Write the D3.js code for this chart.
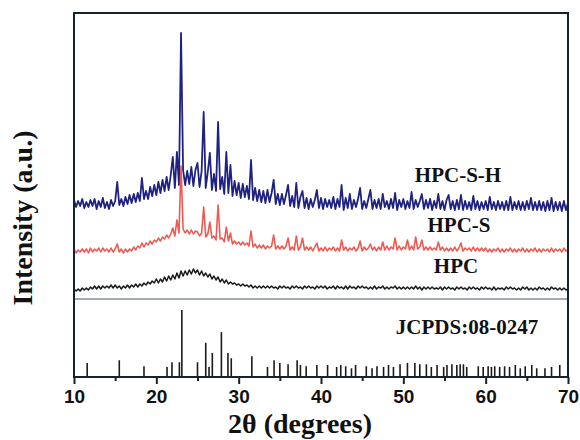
<!DOCTYPE html>
<html>
<head>
<meta charset="utf-8">
<script src="https://cdn.jsdelivr.net/npm/d3@7"></script>
<style>
  html, body { margin: 0; padding: 0; background: #fff; }
  svg { display: block; }
</style>
</head>
<body>
<svg id="chart" width="580" height="440"></svg>
<script>
// ---------- DATA ----------
const thetaStart = 10;      // first 2θ sample (degrees)
const thetaStep = 0.25;     // 2θ sampling step (degrees)

const seriesNames = ["HPC-S-H", "HPC-S", "HPC"];

// HPC-S-H (stacked, a.u.)
const hpcSH = [
  98,91,97,92, 99,90,96,91, 98,92,99,89, 97,91,100,90, 96,89,98,92,
  97,116,93,99, 92,101,94,103, 95,104,96,105, 97,120,99,107, 99,111,102,113,
  103,116,105,118, 107,121,108,123, 141,110,146,113, 265,128,113,127, 114,131,112,128,
  135,111,127,186, 110,126,145,108, 124,107,176,109, 121,104,146,105, 133,102,117,103,
  115,100,114,101, 112,99,138,98, 110,97,108,96, 107,95,108,96, 105,118,94,104,
  93,104,94,103, 113,92,102,91, 115,90,101,107, 90,100,89,99, 91,98,108,90,
  100,89,99,91, 98,90,101,89, 99,91,113,88, 100,90,104,89, 98,91,99,110,
  89,97,90,99, 108,89,98,90, 99,89,104,91, 97,89,99,90, 105,88,98,91,
  99,89,97,90, 106,89,98,91, 97,104,89,98, 90,99,88,97, 90,104,89,97,
  88,98,103,89, 97,88,98,89, 103,88,97,89, 96,88,102,89, 97,88,96,89,
  97,88,101,89, 96,88,97,89, 96,88,97,88, 101,88,96,89, 97,88,96,88,
  97,89,100,88, 96,88,97,88, 96,87,97,88, 100,87,96,88, 96,87,97,88,
  95
];

// HPC-S (stacked, a.u.)
const hpcS = [
  49,45,48,46, 49,46,49,45, 50,46,49,47, 50,46,50,47, 49,46,50,46,
  49,54,46,49, 45,49,46,49, 47,51,48,52, 50,55,51,55, 53,57,54,58,
  56,60,57,61, 59,63,60,64, 70,62,78,65, 132,69,65,68, 64,68,64,67,
  66,62,65,91, 61,64,76,60, 62,58,93,59, 60,56,71,57, 65,54,57,54,
  56,53,56,53, 55,52,67,51, 54,50,53,50, 53,49,52,50, 52,63,49,52,
  49,52,49,52, 60,48,51,48, 62,48,51,60, 48,51,48,51, 47,51,55,47,
  50,47,51,47, 50,48,51,47, 50,47,58,48, 51,47,50,48, 51,47,50,57,
  47,51,48,50, 54,48,51,47, 51,48,56,48, 52,48,51,49, 60,48,52,48,
  51,49,58,48, 52,48,61,49, 51,58,48,51, 48,51,48,50, 48,56,48,51,
  47,50,47,50, 47,51,47,50, 55,47,50,48, 50,47,51,47, 50,47,50,47,
  50,46,49,46, 49,47,50,46, 49,46,49,47, 50,46,49,46, 49,47,50,46,
  49,46,49,47, 50,46,49,46, 49,47,49,46, 50,46,49,47, 49,46,50,47,
  48
];

// HPC (stacked, a.u.)
const hpc = [
  9,7,9,7, 10,8,10,8, 11,9,12,9, 12,9,12,10, 12,10,13,10,
  13,10,12,9, 12,10,13,10, 13,11,14,11, 14,12,15,13, 16,14,17,15,
  19,15,19,16, 21,17,22,18, 23,19,25,20, 27,22,27,23, 28,24,29,25,
  28,23,27,22, 25,21,24,19, 22,18,21,16, 19,15,18,14, 16,14,15,13,
  14,12,14,12, 13,11,13,10, 12,10,12,10, 12,10,12,10, 12,10,11,9,
  12,10,12,10, 11,9,12,10, 12,10,11,9, 12,10,12,10, 11,9,12,10,
  12,10,12,9, 11,10,12,9, 12,10,11,9, 12,9,12,10, 11,9,12,10,
  12,10,11,9, 11,9,12,9, 11,10,12,9, 11,9,11,10, 12,9,11,9,
  11,9,11,9, 11,9,12,9, 11,8,11,9, 11,9,11,9, 10,9,11,8,
  11,9,11,9, 10,8,11,9, 11,9,10,8, 11,9,11,9, 10,8,11,9,
  11,9,10,8, 11,8,10,9, 10,8,11,9, 11,9,10,8, 10,8,11,9,
  11,8,10,8, 10,8,11,9, 10,8,10,8, 11,9,10,8, 10,8,10,8,
  9
];

// JCPDS 08-0247 reference lines: position (2θ) and relative intensity (%)
const refPos = [11.6,15.5,18.5,21.3,21.9,22.8,23.1,25.0,26.0,26.4,26.8,27.9,28.7,29.1,31.6,33.5,34.3,35.0,36.0,37.1,37.5,38.2,39.5,
  40.8,41.9,42.4,43.0,43.7,44.2,45.5,46.2,46.8,47.6,48.2,48.8,49.6,50.5,51.4,52.0,52.8,53.4,54.1,54.9,55.3,55.9,56.5,56.9,57.3,57.7,
  59.1,59.7,60.3,60.7,61.1,61.7,62.3,62.9,63.6,64.2,64.8,65.6,66.2,67.2,68.0,69.0];
const refInt = [21,25,16,15,22,22,100,22,51,15,36,67,36,28,31,15,25,21,19,25,18,16,18,
  18,15,18,16,13,18,16,13,16,15,18,15,19,21,21,19,19,15,18,15,18,19,18,19,19,15,
  16,15,16,15,16,15,16,15,18,13,16,18,13,13,15,18];

const xTicks = [10,20,30,40,50,60,70];
const xMinorTicks = [15,25,35,45,55,65];
const refLabel = "JCPDS:08-0247";
const xTitle = "2θ (degrees)";
const yTitle = "Intensity (a.u.)";

// ---------- DRAW ----------
const svg = d3.select("#chart");
const L = 74, R = 568, T = 13, B = 377, SPLIT = 299;

const x = d3.scaleLinear().domain([10, 70]).range([L, R]);
const yTop = d3.scaleLinear().domain([0, 285]).range([298, T]);
const yRef = d3.scaleLinear().domain([0, 100]).range([B, 310]);

const toPts = arr => arr.map((v, i) => [thetaStart + i * thetaStep, v]);
const line = d3.line().x(d => x(d[0])).y(d => yTop(d[1]));

svg.append("rect").attr("width", 580).attr("height", 440).attr("fill", "#fff");

const g = svg.append("g");
const series = [
  {name: seriesNames[0], data: hpcSH, color: "#1f2280", w: 1.8},
  {name: seriesNames[1], data: hpcS, color: "#ee5a52", w: 1.6},
  {name: seriesNames[2], data: hpc, color: "#1b1b1b", w: 1.5}
];
g.selectAll("path.series").data(series).join("path")
  .attr("class", "series")
  .attr("d", d => line(toPts(d.data)))
  .attr("fill", "none")
  .attr("stroke", d => d.color)
  .attr("stroke-width", d => d.w)
  .attr("stroke-linejoin", "round");

// separator line
svg.append("line").attr("x1", L).attr("x2", R).attr("y1", SPLIT).attr("y2", SPLIT)
  .attr("stroke", "#a3aab2").attr("stroke-width", 2);

// reference sticks
svg.append("g").selectAll("line").data(refPos).join("line")
  .attr("x1", d => x(d)).attr("x2", d => x(d))
  .attr("y1", yRef(0)).attr("y2", (d, i) => yRef(refInt[i]))
  .attr("stroke", "#1a1a1a").attr("stroke-width", 1.6);

// frame
svg.append("rect").attr("x", L).attr("y", T).attr("width", R - L).attr("height", B - T)
  .attr("fill", "none").attr("stroke", "#15232c").attr("stroke-width", 2);

// x axis
const axMaj = svg.append("g").attr("transform", `translate(0,${B})`)
  .call(d3.axisBottom(x).tickValues(xTicks).tickSize(7).tickPadding(6).tickFormat(d3.format("d")));
axMaj.select(".domain").remove();
axMaj.selectAll("line").attr("stroke", "#15232c").attr("stroke-width", 2);
axMaj.selectAll("text").attr("font-family", "'Liberation Sans', Arial, sans-serif")
  .attr("font-weight", "bold").attr("font-size", 19).attr("fill", "#111");

const axMin = svg.append("g").attr("transform", `translate(0,${B})`)
  .call(d3.axisBottom(x).tickValues(xMinorTicks).tickSize(4).tickFormat(""));
axMin.select(".domain").remove();
axMin.selectAll("line").attr("stroke", "#15232c").attr("stroke-width", 2);

// series labels
const serif = "'Liberation Serif', 'Times New Roman', serif";
const labelPos = [{t: seriesNames[0], x: 458, y: 182}, {t: seriesNames[1], x: 459, y: 232}, {t: seriesNames[2], x: 456, y: 273}];
svg.append("g").selectAll("text").data(labelPos).join("text")
  .attr("x", d => d.x).attr("y", d => d.y).attr("text-anchor", "middle")
  .attr("font-family", serif).attr("font-weight", "bold").attr("font-size", 21).attr("fill", "#111")
  .text(d => d.t);

svg.append("text").attr("x", 467).attr("y", 334).attr("text-anchor", "middle")
  .attr("font-family", serif).attr("font-weight", "bold").attr("font-size", 21).attr("fill", "#111")
  .text(refLabel);

// axis titles
svg.append("text").attr("x", 300).attr("y", 433).attr("text-anchor", "middle")
  .attr("font-family", serif).attr("font-weight", "bold").attr("font-size", 28).attr("fill", "#111")
  .text(xTitle);

svg.append("text").attr("transform", "translate(32,218) rotate(-90)").attr("text-anchor", "middle")
  .attr("font-family", serif).attr("font-weight", "bold").attr("font-size", 28).attr("fill", "#111")
  .text(yTitle);
</script>
</body>
</html>
